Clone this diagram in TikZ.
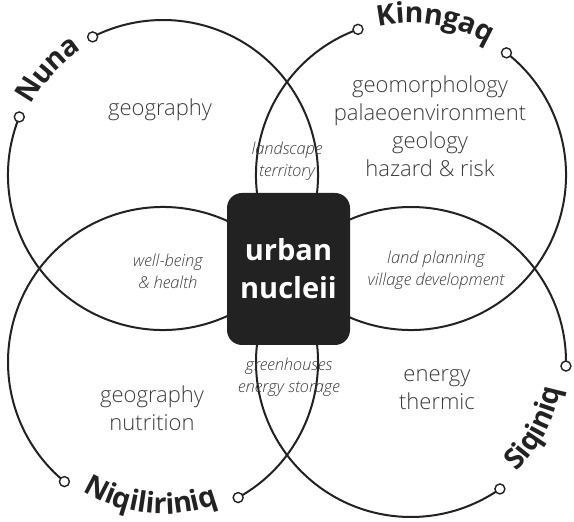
\documentclass[tikz,border=0pt]{standalone}
\usepackage{fontspec}
\setmainfont{Open Sans}
\IfFontExistsTF{Open Sans Light}{%
  \IfFontExistsTF{Open Sans Light Italic}{%
    \newfontfamily\lightfont{Open Sans Light}[ItalicFont={Open Sans Light Italic}]}{%
    \newfontfamily\lightfont{Open Sans Light}}}{%
  \newfontfamily\lightfont{Open Sans}}
\usetikzlibrary{decorations.text}
\definecolor{ink}{HTML}{222222}
\definecolor{txt}{HTML}{3A3A3A}
\newcommand\lblfont{\fontsize{28.5}{28}\selectfont\bfseries}
\tikzset{
  ring/.style={draw=ink, line width=2pt},
  enddot/.style={circle, draw=ink, fill=white, line width=1.4pt, minimum size=10pt, inner sep=0pt},
  corebox/.style={fill=ink, rounded corners=15pt, minimum width=123pt, minimum height=152pt, inner sep=0pt,
    text=white, align=center, font=\fontsize{29}{38}\selectfont\bfseries},
  region/.style={font=\lightfont\fontsize{22}{28}\selectfont, text=txt, align=center, inner sep=0pt},
  overlap/.style={font=\lightfont\itshape\fontsize{16.5}{22}\selectfont, text=txt, align=center, inner sep=0pt},
  labelpath/.style 2 args={decorate, decoration={text along path, text align=center, raise=#1, text color=ink, text={#2}}}
}
\begin{document}
\begin{tikzpicture}[x=1pt, y=1pt]
\useasboundingbox (0,0) rectangle (574,522);
% circles (with gaps for labels)
\draw[ring] (163,347) ++(158:155pt) arc[start angle=158, end angle=477, radius=155pt];
\draw[ring] (411,347) ++(110:155pt) arc[start angle=110, end angle=412, radius=155pt];
\draw[ring] (163,160) ++(-61:155pt) arc[start angle=-61, end angle=230.5, radius=155pt];
\draw[ring] (411,160) ++(-1.5:155pt) arc[start angle=-1.5, end angle=305, radius=155pt];
% end dots
\path (163,347) ++(117:155pt) node[enddot] (nunaA) {};
\path (163,347) ++(158:155pt) node[enddot] (nunaB) {};
\path (411,347) ++(110:155pt) node[enddot] (kinA) {};
\path (411,347) ++(52:155pt) node[enddot] (kinB) {};
\path (163,160) ++(230.5:155pt) node[enddot] (niqA) {};
\path (163,160) ++(-61:155pt) node[enddot] (niqB) {};
\path (411,160) ++(-55:155pt) node[enddot] (siqA) {};
\path (411,160) ++(-1.5:155pt) node[enddot] (siqB) {};
% curved labels
\path[labelpath={-6pt}{|\lblfont|Nuna}] (163,347) ++(158:155pt) arc[start angle=158, end angle=117, radius=155pt];
\path[labelpath={-3pt}{|\lblfont|Kinngaq}] (411,347) ++(110:155pt) arc[start angle=110, end angle=52, radius=155pt];
\path[labelpath={3pt}{|\lblfont|Niqiliriniq}] (163,160) ++(-129.5:155pt) arc[start angle=-129.5, end angle=-61, radius=155pt];
\path[labelpath={3pt}{|\lblfont|Siqiniq}] (411,160) ++(-55:155pt) arc[start angle=-55, end angle=-1.5, radius=155pt];
% centre
\node[corebox] (core) at (288.5,253) {urban\\nucleii};
% region texts
\node[region] (tl) at (160,412) {geography};
\node[region] (tr) at (430,396) {geomorphology\\palaeoenvironment\\geology\\hazard \& risk};
\node[region] (bl) at (152,114) {geography\\nutrition};
\node[region] (br) at (437,132) {energy\\thermic};
% overlap texts
\node[overlap] (top) at (287,361) {landscape\\territory};
\node[overlap] (left) at (168,251) {well-being\\\& health};
\node[overlap] (right) at (436,252) {land planning\\village development};
\node[overlap] (bottom) at (289,145) {greenhouses\\energy storage};
\end{tikzpicture}
\end{document}
